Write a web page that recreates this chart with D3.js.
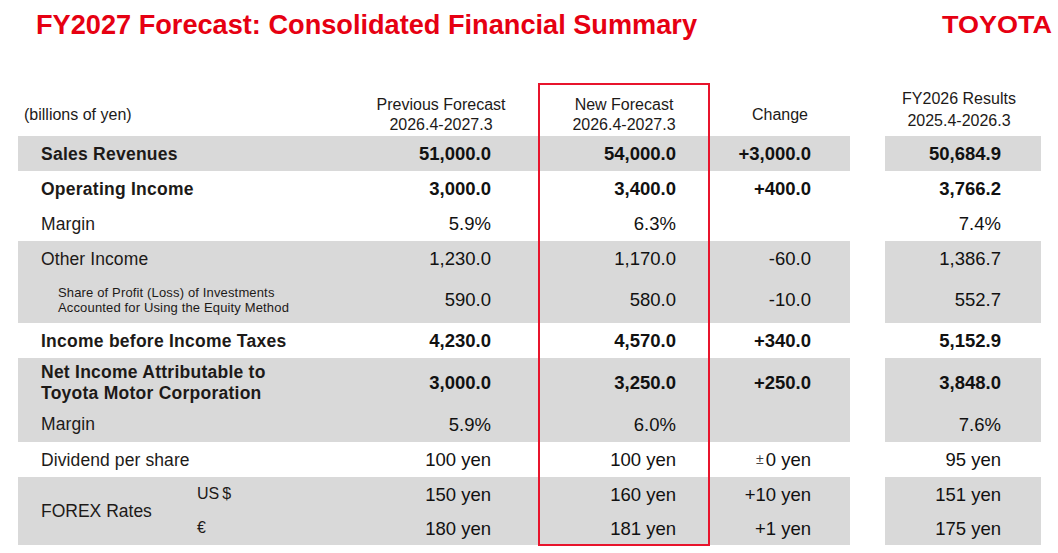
<!DOCTYPE html>
<html>
<head>
<meta charset="utf-8">
<script src="https://cdn.jsdelivr.net/npm/d3@7"></script>
<style>
  html, body { margin: 0; padding: 0; background: #fff; }
  svg { display: block; font-family: "Liberation Sans", Arial, sans-serif; }
</style>
</head>
<body>
<svg id="chart" width="1058" height="553"></svg>
<script>
  'use strict';

  // table content
  var rowKeys = ['sales', 'opInc', 'opMargin', 'otherInc', 'equity', 'preTax', 'netInc', 'netMargin', 'dividend', 'usd', 'eur'];
  var rowLabels = [
    ['Sales Revenues'],
    ['Operating Income'],
    ['Margin'],
    ['Other Income'],
    ['Share of Profit (Loss) of Investments', 'Accounted for Using the Equity Method'],
    ['Income before Income Taxes'],
    ['Net Income Attributable to', 'Toyota Motor Corporation'],
    ['Margin'],
    ['Dividend per share'],
    ['US$'],
    ['€']
  ];
  var rowUnits = ['bn', 'bn', '%', 'bn', 'bn', 'bn', 'bn', '%', 'yen', 'yen', 'yen'];
  var boldRows = [true, true, false, false, false, true, true, false, false, false, false];
  var shadedRows = [true, false, false, true, true, false, true, true, false, true, true];

  var previousForecast = [51000.0, 3000.0, 5.9, 1230.0, 590.0, 4230.0, 3000.0, 5.9, 100, 150, 180];
  var newForecast = [54000.0, 3400.0, 6.3, 1170.0, 580.0, 4570.0, 3250.0, 6.0, 100, 160, 181];
  var changeValues = [3000.0, 400.0, null, -60.0, -10.0, 340.0, 250.0, null, 0, 10, 1];
  var fy2026Results = [50684.9, 3766.2, 7.4, 1386.7, 552.7, 5152.9, 3848.0, 7.6, 95, 151, 175];

  var columnKeys = ['prev', 'next', 'change', 'fy26'];
  var columnHeaders = [
    ['Previous Forecast', '2026.4-2027.3'],
    ['New Forecast', '2026.4-2027.3'],
    ['Change'],
    ['FY2026 Results', '2025.4-2026.3']
  ];

  var RED = '#e60012',
    INK = '#1d1a18',
    GRAY = '#d9d9d9';

  var svg = d3.select('#chart');

  // row geometry (layout only)
  var rowHeights = [35, 35, 35, 35, 47, 35, 48, 36, 35, 34, 34];
  var tableTop = 136;
  var tops = [tableTop].concat(Array.from(d3.cumsum(rowHeights), function (s) { return tableTop + s; }));
  var rowTop = d3.scaleOrdinal().domain(rowKeys).range(tops.slice(0, -1));
  var rowHeight = d3.scaleOrdinal().domain(rowKeys).range(rowHeights);
  function rowMid(k) { return rowTop(k) + rowHeight(k) / 2; }

  // column right edges for values, centres for headers
  var colRight = d3.scaleOrdinal().domain(columnKeys).range([491, 676, 811, 1001]);
  var colCenter = d3.scaleOrdinal().domain(columnKeys).range([441, 624, 780, 959]);
  var headerTop = d3.scaleOrdinal().domain(columnKeys).range([104, 104, 114, 98]);
  var headerGap = d3.scaleOrdinal().domain(columnKeys).range([20, 20, 0, 22]);

  var rows = rowKeys.map(function (k, i) {
    return {
      key: k,
      label: rowLabels[i],
      unit: rowUnits[i],
      bold: boldRows[i],
      shaded: shadedRows[i],
      values: {prev: previousForecast[i], next: newForecast[i], change: changeValues[i], fy26: fy2026Results[i]}
    };
  });

  // plain hyphen for negatives, as on the slide
  var locale = d3.formatLocale({decimal: '.', thousands: ',', grouping: [3], currency: ['', ''], minus: '-'});
  var fmtBn = locale.format(',.1f'),
    fmtBnSigned = locale.format('+,.1f'),
    fmtPct = locale.format('.1f'),
    fmtSigned = locale.format('+');

  function formatValue(v, unit, isChange) {
    if (v == null) return '';
    if (unit === 'bn') return isChange ? fmtBnSigned(v) : fmtBn(v);
    if (unit === '%') return fmtPct(v) + '%';
    if (isChange) return v === 0 ? '0 yen' : fmtSigned(v) + ' yen';
    return v + ' yen';
  }

  // title + logo
  svg.append('text')
    .attr('x', 36).attr('y', 34)
    .attr('textLength', 661).attr('lengthAdjust', 'spacingAndGlyphs')
    .style('font-family', '"Liberation Sans Narrow", "Liberation Sans", Arial, sans-serif')
    .style('font-weight', 'bold').style('font-size', '27px')
    .attr('fill', RED)
    .text('FY2027 Forecast: Consolidated Financial Summary');

  svg.append('text')
    .attr('x', 942).attr('y', 33)
    .attr('textLength', 110).attr('lengthAdjust', 'spacingAndGlyphs')
    .style('font-weight', 'bold').style('font-size', '24px')
    .attr('fill', RED)
    .text('TOYOTA');

  // shaded bands: main block and the results block
  var bands = svg.append('g').attr('shape-rendering', 'crispEdges');
  [[18, 850], [885, 1041]].forEach(function (span) {
    bands.selectAll(null)
      .data(rows.filter(function (r) { return r.shaded; }))
      .enter().append('rect')
      .attr('x', span[0])
      .attr('width', span[1] - span[0])
      .attr('y', function (r) { return rowTop(r.key); })
      .attr('height', function (r) { return rowHeight(r.key); })
      .attr('fill', GRAY);
  });

  // header
  svg.append('text')
    .attr('x', 24).attr('y', 114).attr('dy', '0.35em')
    .style('font-size', '16px').attr('fill', INK)
    .text('(billions of yen)');

  var headers = svg.append('g').selectAll('g')
    .data(columnKeys)
    .enter().append('g');

  headers.selectAll('text')
    .data(function (k, i) { return columnHeaders[i].map(function (t, j) { return {key: k, text: t, line: j}; }); })
    .enter().append('text')
    .attr('x', function (d) { return colCenter(d.key); })
    .attr('y', function (d) { return headerTop(d.key) + d.line * headerGap(d.key); })
    .attr('dy', '0.35em')
    .attr('text-anchor', 'middle')
    .style('font-size', '16px')
    .attr('fill', INK)
    .text(function (d) { return d.text; });

  // row labels
  var labels = svg.append('g').selectAll('g')
    .data(rows.filter(function (r) { return r.key !== 'usd' && r.key !== 'eur'; }))
    .enter().append('g');

  labels.each(function (r) {
    var g = d3.select(this),
      small = r.key === 'equity',
      gap = small ? 15 : 21,
      x = small ? 58 : 41;

    g.selectAll('text')
      .data(r.label)
      .enter().append('text')
      .attr('x', x)
      .attr('y', function (t, j) { return rowMid(r.key) + (j - (r.label.length - 1) / 2) * gap; })
      .attr('dy', '0.35em')
      .style('font-size', small ? '13px' : '17.5px')
      .style('font-weight', r.bold ? 'bold' : 'normal')
      .style('letter-spacing', r.bold ? '0.25px' : (small ? '0.15px' : '0.1px'))
      .attr('fill', INK)
      .text(function (t) { return t; });
  });

  // FOREX group label + currency sub labels
  svg.append('text')
    .attr('x', 41).attr('y', rowTop('eur')).attr('dy', '0.35em')
    .style('font-size', '17.5px').attr('fill', INK)
    .text('FOREX Rates');

  var currency = svg.append('g').selectAll('text')
    .data(rows.filter(function (r) { return r.key === 'usd' || r.key === 'eur'; }))
    .enter().append('text')
    .attr('x', 197)
    .attr('y', function (r) { return rowMid(r.key) - 1; })
    .attr('dy', '0.35em')
    .style('font-size', '16px').attr('fill', INK);

  // the slide sets the currency sign slightly apart from "US"
  currency.each(function (r) {
    var t = d3.select(this), label = r.label[0];
    if (label.length > 1) {
      t.append('tspan').text(label.slice(0, -1));
      t.append('tspan').attr('dx', 3).text(label.slice(-1));
    } else {
      t.text(label);
    }
  });

  // values
  var cells = [];
  rows.forEach(function (r) {
    columnKeys.forEach(function (c) {
      cells.push({row: r, col: c, text: formatValue(r.values[c], r.unit, c === 'change'), zero: c === 'change' && r.unit === 'yen' && r.values[c] === 0});
    });
  });

  var valueText = svg.append('g').selectAll('text')
    .data(cells)
    .enter().append('text')
    .attr('x', function (d) { return colRight(d.col); })
    .attr('y', function (d) { return rowMid(d.row.key) + 6.5; })
    .attr('text-anchor', 'end')
    .style('font-size', '18.5px')
    .style('font-weight', function (d) { return d.row.bold ? 'bold' : 'normal'; })
    .attr('fill', '#111');

  valueText.filter(function (d) { return d.zero; })
    .append('tspan')
    .attr('dy', -2)
    .style('font-size', '14px')
    .attr('fill', '#444')
    .text('±');

  valueText.append('tspan')
    .attr('dy', function (d) { return d.zero ? 2 : null; })
    .attr('dx', function (d) { return d.zero ? 2 : null; })
    .text(function (d) { return d.text; });

  // highlight box round the new forecast column
  svg.append('rect')
    .attr('x', 539).attr('y', 84)
    .attr('width', 170).attr('height', 461)
    .attr('fill', 'none')
    .attr('stroke', '#e8142c')
    .attr('stroke-width', 2);
</script>
</body>
</html>
